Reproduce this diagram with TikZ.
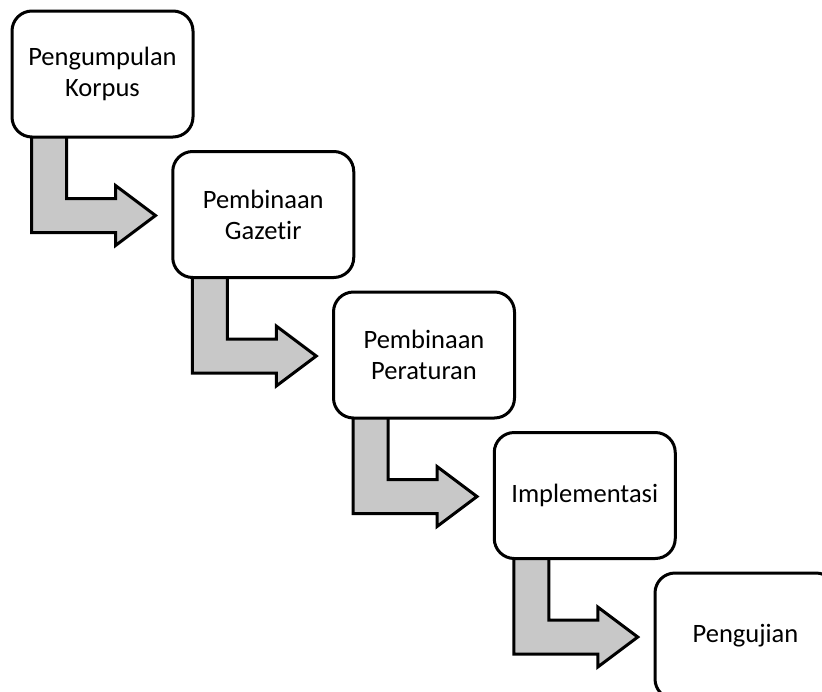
\documentclass[tikz,border=0pt]{standalone}
\usepackage{fontspec}
\setmainfont[Ligatures=NoCommon]{Carlito}
\usetikzlibrary{calc,backgrounds}
\definecolor{arrowgray}{RGB}{200,200,200}
\tikzset{
  stepbox/.style={draw=black, line width=3pt, fill=white, rounded corners=20pt,
    minimum width=181pt, minimum height=126pt, inner sep=0pt, align=center,
    font=\fontsize{26.5}{31}\selectfont},
  bentarrow/.style={draw=black, line width=3pt, fill=arrowgray, line join=miter}
}
\newcommand{\bentarrow}[1]{%
  \path[bentarrow]
    ($(#1.north west)+(21,115)$) --
    ($(#1.north west)+(56,115)$) --
    ($(#1.north west)+(56,189)$) --
    ($(#1.north west)+(105,189)$) --
    ($(#1.north west)+(105,176)$) --
    ($(#1.north west)+(145,206)$) --
    ($(#1.north west)+(105,236)$) --
    ($(#1.north west)+(105,223)$) --
    ($(#1.north west)+(21,223)$) -- cycle;
}
\begin{document}
\begin{tikzpicture}[x=1pt,y=-1pt]
\useasboundingbox (0,0) rectangle (822,691);
\clip (0,0) rectangle (822,691);
\node[stepbox] (b1) at (102.5,74) {Pengumpulan\\Korpus};
\node[stepbox] (b2) at (263.25,214.5) {Pembinaan\\Gazetir};
\node[stepbox] (b3) at (424,355) {Pembinaan\\Peraturan};
\node[stepbox] (b4) at (584.75,495.5) {Implementasi};
\node[stepbox] (b5) at (745.5,636) {Pengujian};
\begin{scope}[on background layer]
\bentarrow{b1}
\bentarrow{b2}
\bentarrow{b3}
\bentarrow{b4}
\end{scope}
\end{tikzpicture}
\end{document}
